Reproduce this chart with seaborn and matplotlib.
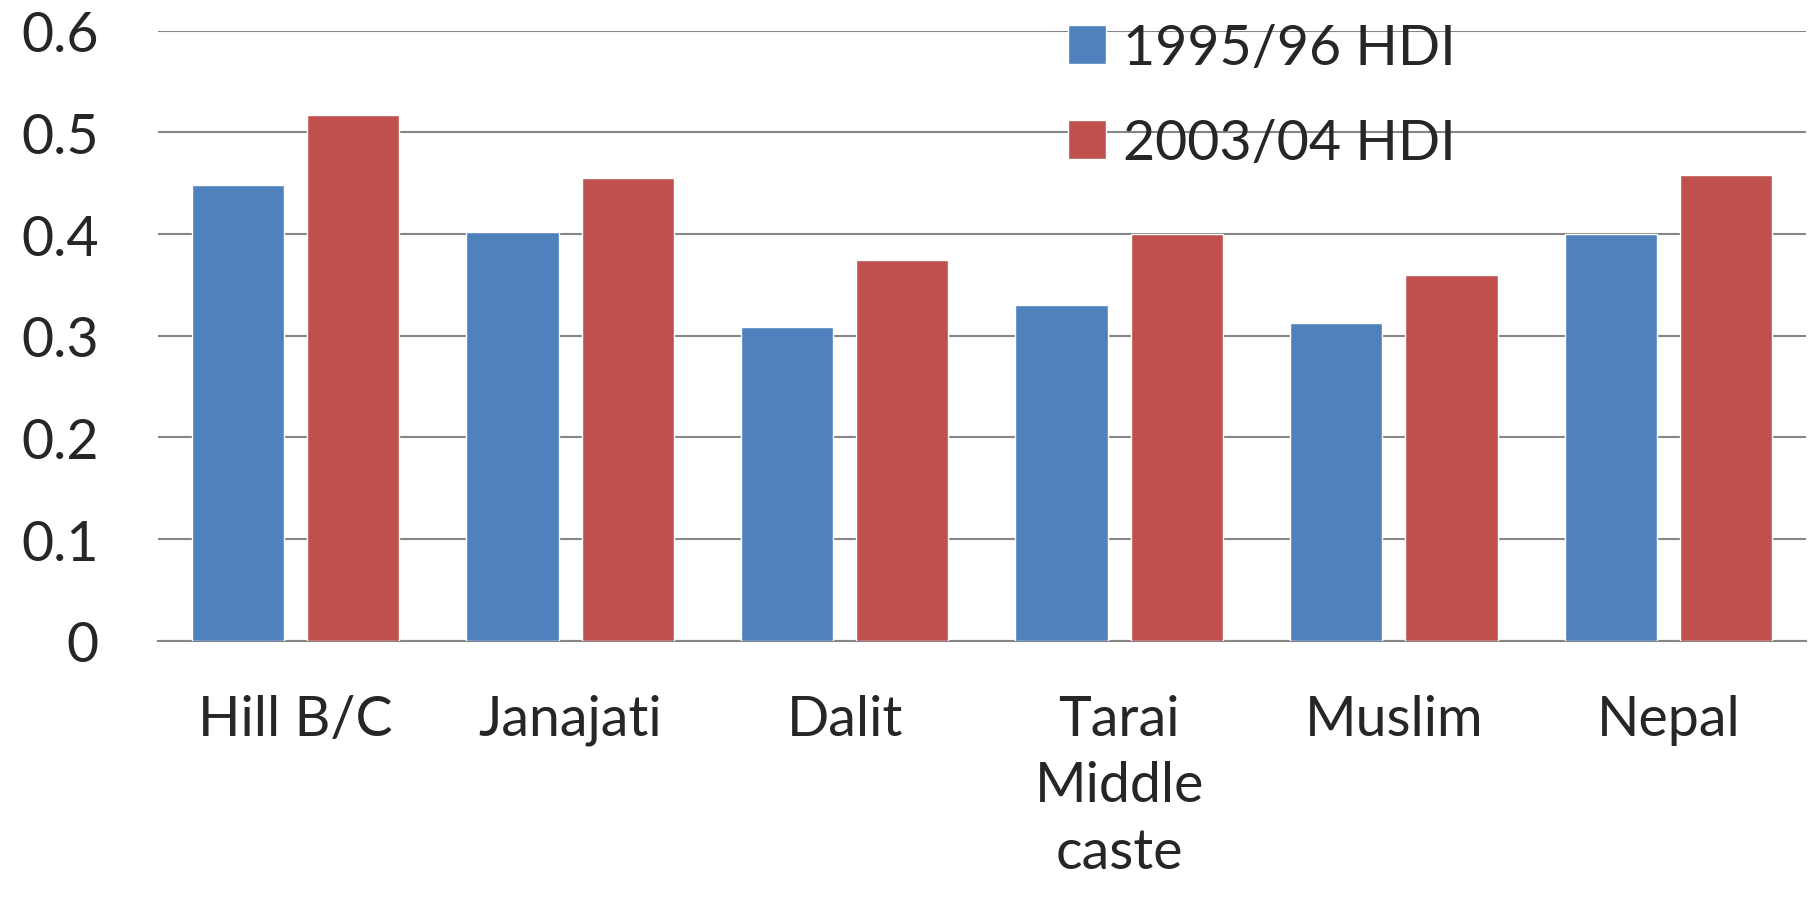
import pandas as pd
import seaborn as sns
import matplotlib.pyplot as plt

# values
groups = ['Hill B/C', 'Janajati', 'Dalit', 'Tarai\nMiddle\ncaste', 'Muslim', 'Nepal']
hdi_1995 = [0.448, 0.402, 0.309, 0.330, 0.313, 0.400]
hdi_2003 = [0.517, 0.455, 0.374, 0.400, 0.360, 0.458]
series = ['1995/96 HDI', '2003/04 HDI']
yticks = [0, 0.1, 0.2, 0.3, 0.4, 0.5, 0.6]
ytick_labels = ['0', '0.1', '0.2', '0.3', '0.4', '0.5', '0.6']

df = pd.DataFrame({
    'group': groups * 2,
    'HDI': hdi_1995 + hdi_2003,
    'year': [series[0]] * len(groups) + [series[1]] * len(groups),
})

sns.set_style('white')
plt.rcParams['font.family'] = ['Lato', 'DejaVu Sans']

fig = plt.figure(figsize=(18.11, 9.04), dpi=100)
ax = fig.add_axes([0.0874, 0.290, 0.9096, 0.675])

sns.barplot(data=df, x='group', y='HDI', hue='year', order=groups,
            palette=['#4F81BD', '#C0504D'], width=0.84, gap=0.2,
            saturation=1, ax=ax, zorder=3)

ax.set_ylim(0, 0.6)
ax.set_xlim(-0.5, len(groups) - 0.5)
ax.set_yticks(yticks)
ax.set_yticklabels(ytick_labels)
ax.yaxis.grid(True, color='#868686', linewidth=1.5, zorder=0)
ax.set_axisbelow(True)
for s in ['left', 'right', 'top']:
    ax.spines[s].set_visible(False)
ax.spines['bottom'].set_color('#868686')
ax.spines['bottom'].set_linewidth(1.5)

ax.tick_params(axis='y', length=0, pad=43, labelsize=40)
ax.tick_params(axis='x', length=0, pad=38, labelsize=40)
for lab in ax.get_xticklabels():
    lab.set_linespacing(1.38)
    lab.set_verticalalignment('top')
ax.set_xlabel('')
ax.set_ylabel('')

ax.legend(loc='upper left', bbox_to_anchor=(0.522, 1.095), frameon=False,
          fontsize=40, handlelength=0.68, handleheight=0.7, handletextpad=0.3,
          labelspacing=0.8)

fig.savefig('out.png', dpi=100)
